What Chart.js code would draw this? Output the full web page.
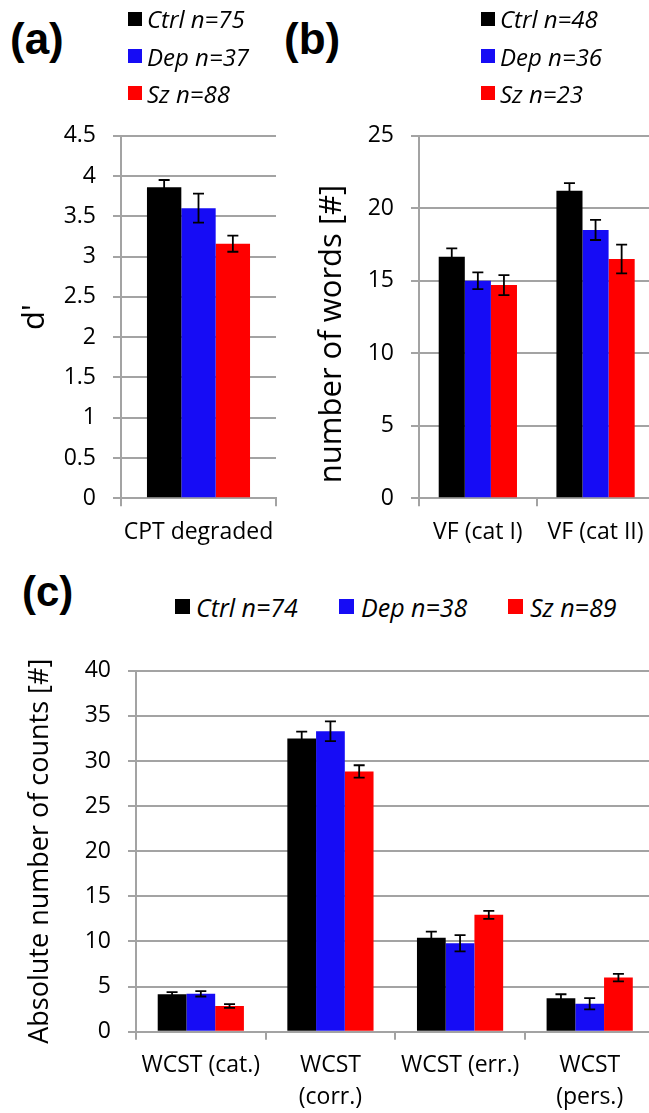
<!DOCTYPE html>
<html>
<head>
<meta charset="utf-8">
<script src="https://cdn.jsdelivr.net/npm/chart.js@4.4.1/dist/chart.umd.min.js"></script>
<style>
  html, body { margin:0; padding:0; background:#fff; }
  body { position:relative; width:649px; height:1113px; overflow:hidden; font-family:"Open Sans", sans-serif; }
  canvas { position:absolute; }
  .lbl { position:absolute; font-family:"Liberation Sans", Arial, sans-serif; font-weight:bold; white-space:nowrap; }
  .sq { position:absolute; }
  .lt { position:absolute; font-family:"Open Sans", sans-serif; font-style:italic; white-space:nowrap; color:#000; }
  .yt { position:absolute; font-family:"Open Sans", sans-serif; white-space:nowrap; text-align:center; transform:rotate(-90deg); color:#000; }
</style>
</head>
<body>
<canvas id="ca" width="300" height="460" style="left:0px;top:100px"></canvas>
<canvas id="cb" width="360" height="460" style="left:300px;top:100px"></canvas>
<canvas id="cc" width="660" height="473" style="left:0px;top:640px"></canvas>

<div class="lbl" style="left:10px;top:17px;font-size:44px;line-height:44px">(a)</div>
<div class="lbl" style="left:284px;top:17px;font-size:44px;line-height:44px">(b)</div>
<div class="lbl" style="left:22px;top:571px;font-size:42px;line-height:42px">(c)</div>

<div id="legA"></div>
<div id="legB"></div>
<div id="legC"></div>

<div class="yt" style="left:129.3px;top:315.6px;width:400px;font-size:31px;line-height:36px">number of words [#]</div>

<script>
// ---------- DATA ----------
const groupNames = ['Ctrl', 'Dep', 'Sz'];
const groupColors = ['#000000', '#160cf5', '#ff0000'];

// Panel (a)
const catsA = ['CPT degraded'];
const nA = [75, 37, 88];
const ctrlA = [3.86];
const depA = [3.60];
const szA = [3.16];
const ctrlAErr = [0.09];
const depAErr = [0.18];
const szAErr = [0.10];
const ticksA = { min: 0, max: 4.5, step: 0.5 };

// Panel (b)
const catsB = ['VF (cat I)', 'VF (cat II)'];
const nB = [48, 36, 23];
const ctrlB = [16.65, 21.2];
const depB = [15.0, 18.5];
const szB = [14.7, 16.5];
const ctrlBErr = [0.58, 0.53];
const depBErr = [0.58, 0.69];
const szBErr = [0.69, 0.99];
const ticksB = { min: 0, max: 25, step: 5 };

// Panel (c)
const catsC = ['WCST (cat.)', ['WCST', '(corr.)'], 'WCST (err.)', ['WCST', '(pers.)']];
const nC = [74, 38, 89];
const ctrlC = [4.16, 32.5, 10.4, 3.7];
const depC = [4.2, 33.3, 9.8, 3.1];
const szC = [2.85, 28.85, 12.95, 6.0];
const ctrlCErr = [0.22, 0.75, 0.7, 0.45];
const depCErr = [0.3, 1.1, 0.9, 0.63];
const szCErr = [0.2, 0.68, 0.45, 0.42];
const ticksC = { min: 0, max: 40, step: 5 };

// ---------- STYLE ----------
const GRID = '#a3a3a3';
const FONT = '"Open Sans", sans-serif';

const errorBars = {
  id: 'errorBars',
  afterDatasetsDraw(chart) {
    const ctx = chart.ctx;
    const y = chart.scales.y;
    ctx.save();
    ctx.strokeStyle = '#000';
    ctx.lineWidth = 1.8;
    chart.data.datasets.forEach((ds, i) => {
      const meta = chart.getDatasetMeta(i);
      meta.data.forEach((bar, j) => {
        const v = ds.data[j], e = ds.errors[j];
        const yt = y.getPixelForValue(v + e);
        const yb = y.getPixelForValue(v - e);
        const x = bar.x, hw = 5.5;
        ctx.beginPath();
        ctx.moveTo(x, yt); ctx.lineTo(x, yb);
        ctx.moveTo(x - hw, yt); ctx.lineTo(x + hw, yt);
        ctx.moveTo(x - hw, yb); ctx.lineTo(x + hw, yb);
        ctx.stroke();
      });
    });
    ctx.restore();
  }
};

function makeChart(id, labels, series, errs, tk, cfg) {
  const datasets = series.map((d, i) => ({
    label: groupNames[i],
    data: d,
    errors: errs[i],
    backgroundColor: groupColors[i],
    borderWidth: 0,
    barPercentage: 1,
    categoryPercentage: 0.665
  }));
  return new Chart(document.getElementById(id), {
    type: 'bar',
    data: { labels, datasets },
    plugins: [errorBars],
    options: {
      responsive: false,
      animation: false,
      devicePixelRatio: 1,
      layout: { padding: cfg.padding },
      plugins: { legend: { display: false }, tooltip: { enabled: false } },
      scales: {
        x: {
          grid: { offset: true, drawOnChartArea: false, drawTicks: true, tickLength: 8, color: GRID, lineWidth: 2 },
          border: { display: true, color: GRID, width: 2 },
          ticks: { color: '#000', font: { family: FONT, size: 23, lineHeight: 1.39 }, padding: 10, maxRotation: 0, autoSkip: false },
          afterFit(s) { s.height = cfg.xHeight; }
        },
        y: {
          min: tk.min, max: tk.max,
          grid: { color: GRID, lineWidth: 2, drawTicks: true, tickLength: 8 },
          border: { display: true, color: GRID, width: 2 },
          ticks: { stepSize: tk.step, color: '#000', font: { family: FONT, size: 23 }, padding: 17,
                   callback: (v) => String(Math.round(v * 100) / 100) },
          title: cfg.yTitle,
          afterFit(s) { s.width = cfg.yWidth; }
        }
      }
    }
  });
}

makeChart('ca', catsA, [ctrlA, depA, szA], [ctrlAErr, depAErr, szAErr], ticksA, {
  padding: { left: 0, right: 24, top: 35.7, bottom: 0 },
  xHeight: 61.7, yWidth: 121,
  yTitle: { display: true, text: "d'", color: '#000', font: { family: FONT, size: 31 }, padding: { top: 17 } }
});

makeChart('cb', catsB, [ctrlB, depB, szB], [ctrlBErr, depBErr, szBErr], ticksB, {
  padding: { left: 0, right: 5.6, top: 35.7, bottom: 0 },
  xHeight: 61.7, yWidth: 119,
  yTitle: { display: false }
});

makeChart('cc', catsC, [ctrlC, depC, szC], [ctrlCErr, depCErr, szCErr], ticksC, {
  padding: { left: 0, right: 5.5, top: 22.9, bottom: 0 },
  xHeight: 81.3, yWidth: 136,
  yTitle: { display: true, text: 'Absolute number of counts [#]', color: '#000', font: { family: FONT, size: 27 }, padding: { top: 24.5 } }
});

// ---------- LEGENDS (HTML text) ----------
function legend(el, ns, items) {
  const host = document.getElementById(el);
  items.forEach((it, i) => {
    const sq = document.createElement('div');
    sq.className = 'sq';
    sq.style.cssText = `left:${it.sx}px;top:${it.cy - it.sq / 2}px;width:${it.sq}px;height:${it.sq}px;background:${groupColors[i]}`;
    host.appendChild(sq);
    const t = document.createElement('div');
    t.className = 'lt';
    const lh = Math.round(it.fs * 1.2);
    t.style.cssText = `left:${it.tx}px;top:${it.cy - lh / 2}px;font-size:${it.fs}px;line-height:${lh}px`;
    t.textContent = groupNames[i] + ' n=' + ns[i];
    host.appendChild(t);
  });
}
const rowsY = [18.5, 56, 93];
legend('legA', nA, rowsY.map(y => ({ sx: 128, tx: 147, cy: y, sq: 14, fs: 24 })));
legend('legB', nB, rowsY.map(y => ({ sx: 481, tx: 500, cy: y, sq: 14, fs: 24 })));
legend('legC', nC, [
  { sx: 175, tx: 196, cy: 606.5, sq: 15, fs: 25 },
  { sx: 339, tx: 361, cy: 606.5, sq: 15, fs: 25 },
  { sx: 508, tx: 530, cy: 606.5, sq: 15, fs: 25 }
]);
</script>
</body>
</html>
